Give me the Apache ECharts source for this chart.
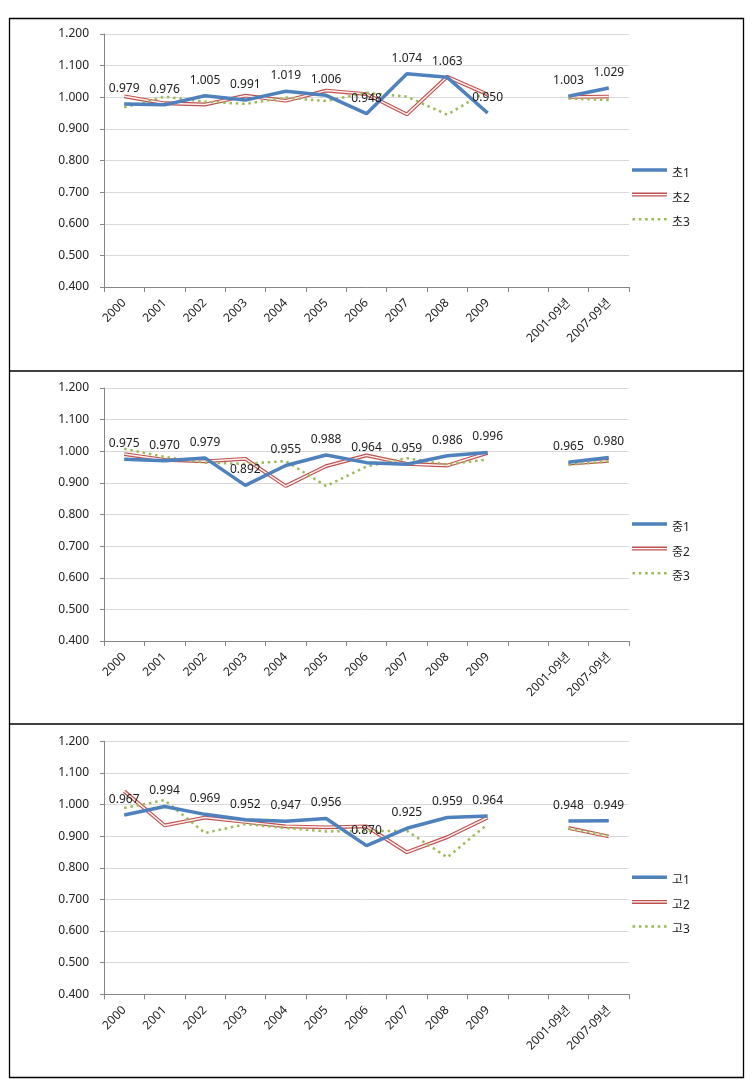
<!DOCTYPE html>
<html><head><meta charset="utf-8">
<script src="https://cdn.jsdelivr.net/npm/echarts@6/dist/echarts.min.js"></script>
<style>html,body{margin:0;padding:0;background:#fff}#c{width:755px;height:1090px}</style>
</head><body><div id="c"></div>
<script>
// ---- data ----
const categories = ['2000','2001','2002','2003','2004','2005','2006','2007','2008','2009','','2001-09년','2007-09년'];
const yMin = 0.4, yMax = 1.2, yStep = 0.1;

const namesCho = ['초1','초2','초3'];
const cho1 = [0.979, 0.976, 1.005, 0.991, 1.019, 1.006, 0.948, 1.074, 1.063, 0.950, null, 1.003, 1.029];
const cho2 = [1.003, 0.981, 0.977, 1.005, 0.989, 1.021, 1.010, 0.946, 1.065, 1.009, null, 1.001, 1.002];
const cho3 = [0.968, 1.002, 0.986, 0.979, 0.999, 0.988, 1.014, 1.002, 0.945, 1.021, null, 0.996, 0.991];

const namesJung = ['중1','중2','중3'];
const jung1 = [0.975, 0.970, 0.979, 0.892, 0.955, 0.988, 0.964, 0.959, 0.986, 0.996, null, 0.965, 0.980];
const jung2 = [0.991, 0.973, 0.968, 0.976, 0.890, 0.953, 0.987, 0.960, 0.955, 0.995, null, 0.961, 0.970];
const jung3 = [1.008, 0.982, 0.964, 0.960, 0.969, 0.890, 0.952, 0.978, 0.958, 0.974, null, 0.957, 0.968];

const namesGo = ['고1','고2','고3'];
const go1 = [0.967, 0.994, 0.969, 0.952, 0.947, 0.956, 0.870, 0.925, 0.959, 0.964, null, 0.948, 0.949];
const go2 = [1.042, 0.934, 0.959, 0.945, 0.931, 0.928, 0.931, 0.849, 0.897, 0.959, null, 0.926, 0.899];
const go3 = [0.989, 1.014, 0.910, 0.938, 0.926, 0.915, 0.916, 0.917, 0.833, 0.938, null, 0.924, 0.902];

// ---- layout / style ----
const FONT = '"Noto Sans", "Noto Sans CJK KR", sans-serif';
const TXT = '#222';
const BLUE = '#4f81bd', RED = '#c0504d', GREEN = '#9bbb59';
const gridTops = [34, 388, 741.3];
const panels = [
  {names: namesCho, data: [cho1, cho2, cho3]},
  {names: namesJung, data: [jung1, jung2, jung3]},
  {names: namesGo, data: [go1, go2, go3]}
];

// legend icons: 35x14 box (zero-area corner anchors), mark drawn a little above the text centre
const PAD = 'M0,0L0,0ZM35,14L35,14Z';
const iconSolid = 'path://' + PAD + 'M0,1.7L35,1.7L35,5.3L0,5.3Z';
const iconDouble = 'path://' + PAD + 'M0,1.5L35,1.5L35,5.5L0,5.5ZM0,2.8L0,4.2L35,4.2L35,2.8Z';
let dots = 'path://' + PAD;
for (let i = 0; i < 6; i++) { const x = 0.5 + i * 6.3; dots += 'M' + x + ',2.2L' + (x + 2.6) + ',2.2L' + (x + 2.6) + ',4.8L' + x + ',4.8Z'; }
const iconDots = dots;

const option = {
  animation: false,
  textStyle: {fontFamily: FONT},
  grid: [], xAxis: [], yAxis: [], legend: [], series: [],
  graphic: [
    {type: 'rect', shape: {x: 9.5, y: 18.5, width: 734, height: 1059}, style: {fill: 'none', stroke: '#000', lineWidth: 1.3}},
    {type: 'line', shape: {x1: 9.5, y1: 371, x2: 743.5, y2: 371}, style: {stroke: '#000', lineWidth: 1.3}},
    {type: 'line', shape: {x1: 9.5, y1: 724, x2: 743.5, y2: 724}, style: {stroke: '#000', lineWidth: 1.3}}
  ]
};

panels.forEach((p, i) => {
  const top = gridTops[i];
  option.grid.push({left: 104, width: 525, top: top, height: 253, containLabel: false});
  option.xAxis.push({
    type: 'category', gridIndex: i, data: categories, boundaryGap: true,
    axisLine: {lineStyle: {color: '#868686', width: 1}},
    axisTick: {show: true, length: 5, interval: 0, lineStyle: {color: '#868686'}},
    axisLabel: {interval: 0, rotate: 45, margin: 14, fontSize: 12, color: TXT, fontFamily: FONT},
    splitLine: {show: false}
  });
  option.yAxis.push({
    type: 'value', gridIndex: i, min: yMin, max: yMax, interval: yStep,
    axisLine: {show: true, lineStyle: {color: '#868686', width: 1}},
    axisTick: {show: true, length: 4, lineStyle: {color: '#868686'}},
    axisLabel: {margin: 15, fontSize: 12, color: TXT, fontFamily: FONT, formatter: v => v.toFixed(3)},
    splitLine: {lineStyle: {color: '#d9d9d9', width: 1}}
  });
  option.legend.push({
    orient: 'vertical', left: 632, top: top + 132.5, padding: 0,
    itemWidth: 35, itemHeight: 14, itemGap: 10.6,
    textStyle: {fontSize: 12, color: TXT, fontFamily: FONT},
    data: [
      {name: p.names[0], icon: iconSolid, itemStyle: {color: BLUE, borderWidth: 0, opacity: 1}},
      {name: p.names[1], icon: iconDouble, itemStyle: {color: RED, borderWidth: 0, opacity: 1}},
      {name: p.names[2], icon: iconDots, itemStyle: {color: GREEN, borderWidth: 0, opacity: 1}}
    ]
  });
  // series 1 (solid blue, labelled)
  option.series.push({
    type: 'line', name: p.names[0], xAxisIndex: i, yAxisIndex: i, data: p.data[0],
    symbol: 'circle', symbolSize: 1, itemStyle: {color: 'rgba(0,0,0,0)'},
    lineStyle: {color: BLUE, width: 3.5}, connectNulls: false,
    label: {show: true, position: 'top', distance: 9, fontSize: 12, color: TXT, fontFamily: FONT,
      formatter: q => (q.value == null ? '' : Number(q.value).toFixed(3))},
    emphasis: {disabled: true}, z: 2
  });
  // series 2 (double red line: outer + inner)
  option.series.push({
    type: 'line', name: p.names[1], xAxisIndex: i, yAxisIndex: i, data: p.data[1],
    symbol: 'none', itemStyle: {color: RED}, lineStyle: {color: RED, width: 3.8},
    emphasis: {disabled: true}, z: 1
  });
  option.series.push({
    type: 'line', name: p.names[1], xAxisIndex: i, yAxisIndex: i, data: p.data[1],
    symbol: 'none', itemStyle: {color: RED}, lineStyle: {color: '#fdf2f2', width: 1.5},
    emphasis: {disabled: true}, z: 1
  });
  // series 3 (green dotted)
  option.series.push({
    type: 'line', name: p.names[2], xAxisIndex: i, yAxisIndex: i, data: p.data[2],
    symbol: 'none', itemStyle: {color: GREEN},
    lineStyle: {color: GREEN, width: 2.5, type: [2.5, 3.8], cap: 'butt'},
    emphasis: {disabled: true}, z: 1
  });
});

const chart = echarts.init(document.getElementById('c'), null, {renderer: 'canvas'});
chart.setOption(option);
</script>
</body></html>
